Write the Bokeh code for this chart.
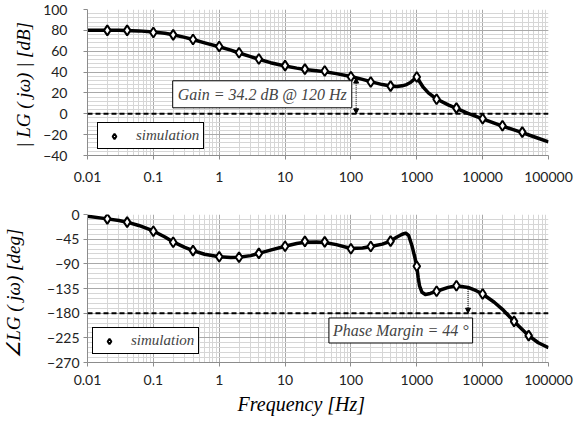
import numpy as np
from bokeh.plotting import figure
from bokeh.layouts import column
from bokeh.models import (Range1d, FixedTicker, Span, Label, Arrow, NormalHead,
                          Legend, LegendItem, Title)
from bokeh.embed import file_html
from bokeh.resources import INLINE

# ---------------- data ----------------
# simulation markers (magnitude)
sim_mag_f = [0.02, 0.04, 0.1, 0.2, 0.4, 1, 2, 4, 10, 20, 40, 100, 200, 400,
             1000, 2000, 4000, 10000, 20000, 40000]
sim_mag_db = [80, 80, 78, 75.7, 71.3, 64.5, 58.5, 52.5, 46.2, 42.8, 41, 35.5,
              30.5, 26.5, 35.3, 14, 5.4, -4.8, -11.5, -17.6]

# model curve (magnitude)
mag_f = [0.01, 0.03, 0.06, 0.1, 0.15, 0.2, 0.3, 0.4, 0.6, 1, 1.5, 2, 3, 4, 6,
         10, 15, 20, 30, 40, 60, 100, 150, 200, 300, 400, 500, 600, 700, 800,
         900, 1000, 1100, 1250, 1500, 2000, 3000, 4000, 6000, 10000, 15000,
         20000, 30000, 40000, 60000, 100000]
mag_db = [80, 80, 79.5, 78.5, 77.2, 75.8, 73.3, 71.2, 68, 64.3, 61, 58.3, 54.8,
          52.3, 49, 45.9, 43.8, 42.5, 41.3, 40.3, 38.5, 35.8, 33, 30.8, 28,
          26.6, 26.2, 26.8, 28, 30, 32.8, 35.8, 31, 25.5, 20, 14.2, 8.5, 5.2,
          0.5, -4.8, -9, -11.8, -15.5, -18, -22, -27]

# simulation markers (phase)
sim_ph_f = [0.02, 0.04, 0.1, 0.2, 0.4, 1, 2, 4, 10, 20, 40, 100, 200, 400,
            1000, 2000, 4000, 10000, 30000, 50000]
sim_ph_deg = [-8, -14, -30.5, -50.5, -66, -77, -78, -71, -58, -49, -50, -62.5,
              -58.5, -48.5, -94.5, -140, -130, -145, -195, -221]

# model curve (phase)
ph_f = [0.01, 0.02, 0.03, 0.04, 0.06, 0.1, 0.15, 0.2, 0.3, 0.4, 0.6, 1, 1.5,
        2, 3, 4, 6, 10, 15, 20, 30, 40, 60, 100, 150, 200, 300, 400, 500, 600,
        680, 750, 850, 950, 1000, 1050, 1100, 1200, 1350, 1600, 2000, 3000,
        4000, 6000, 8000, 10000, 15000, 20000, 30000, 50000, 70000, 100000]
ph_deg = [-3, -8, -11, -14, -20, -30, -41, -50, -60, -66, -72.5, -77, -78.5,
          -78, -75, -71, -65, -58, -53, -50.5, -50, -51, -55, -62, -61, -58.5,
          -54, -48.5, -41, -36, -34, -38, -58, -82, -95, -115, -130, -142,
          -146, -144, -140, -133, -130, -133, -139, -145, -160, -173, -195,
          -221, -234, -243]

x_ticks = [0.01, 0.1, 1, 10, 100, 1000, 10000, 100000]
x_tick_labels = ["0.01", "0.1", "1", "10", "100", "1000", "10000", "100000"]
mag_ticks = [-40, -20, 0, 20, 40, 60, 80, 100]
ph_ticks = [-270, -225, -180, -135, -90, -45, 0]

gain_f, gain_db = 120, 34.2          # gain annotation
pm_f, pm_deg = 6000, -136            # phase-margin annotation

# ---------------- style ----------------
SERIF = "Liberation Serif"
SANS = "Lato"
MAJOR = "#a9a9a9"
MINOR = "#d6d6d6"
AXIS = "#8c8c8c"

x_minor = [m * d for d in x_ticks[:-1] for m in range(2, 10)]
mag_minor = list(range(-40, 101, 4))
ph_minor = list(range(-270, 1, 9))


def style(p, yticks, yminor, xstandoff, label_standoff, axis_label_standoff):
    p.outline_line_color = None
    p.background_fill_color = "white"
    p.border_fill_color = "white"
    xt = FixedTicker(ticks=x_ticks, minor_ticks=x_minor)
    yt = FixedTicker(ticks=yticks, minor_ticks=yminor)
    p.xaxis.ticker = xt
    p.yaxis.ticker = yt
    p.xgrid.ticker = xt
    p.ygrid.ticker = yt
    p.xaxis.major_label_overrides = dict(zip(x_ticks, x_tick_labels))
    for g in (p.xgrid, p.ygrid):
        g.grid_line_color = MAJOR
        g.grid_line_width = 1
        g.minor_grid_line_color = MINOR
        g.minor_grid_line_width = 1
    for ax in (p.xaxis, p.yaxis):
        ax.axis_line_color = AXIS
        ax.major_tick_line_color = AXIS
        ax.major_tick_out = 4
        ax.major_tick_in = 0
        ax.minor_tick_line_color = None
        ax.major_label_text_font = SANS
        ax.major_label_text_font_size = "14px"
        ax.major_label_text_color = "#222222"
    p.xaxis.major_label_standoff = xstandoff
    p.yaxis.major_label_standoff = label_standoff
    p.yaxis.axis_label_text_font = SERIF
    p.yaxis.axis_label_text_font_style = "italic"
    p.yaxis.axis_label_text_font_size = "19px"
    p.yaxis.axis_label_text_color = "black"
    p.yaxis.axis_label_standoff = axis_label_standoff


def make_legend(renderer, loc):
    return Legend(items=[LegendItem(label="simulation", renderers=[renderer])],
                  location=loc, margin=0, padding=4, glyph_width=24,
                  glyph_height=14, label_height=14, label_standoff=10,
                  label_text_font=SERIF, label_text_font_style="italic",
                  label_text_font_size="15px", border_line_color="black",
                  border_line_alpha=1.0, border_line_width=1,
                  background_fill_color="white", background_fill_alpha=1)


# ---------------- magnitude plot ----------------
p1 = figure(width=574, height=190, x_axis_type="log",
            x_range=Range1d(0.01, 100000), y_range=Range1d(-40, 100),
            output_backend="svg", toolbar_location=None,
            min_border_left=82, min_border_right=26,
            min_border_top=9, min_border_bottom=35)
style(p1, mag_ticks, mag_minor, 12, 16, 6)
p1.yaxis.axis_label = "| LG ( jω) |  [dB]"

p1.add_layout(Span(location=0, dimension="width", line_color="black",
                   line_width=2, line_dash="5 3"))
p1.line(mag_f, mag_db, line_color="black", line_width=3.5, line_join="round")
r1 = p1.scatter(sim_mag_f, sim_mag_db, marker="diamond", size=10,
                fill_color="white", line_color="black", line_width=2)
p1.add_layout(Arrow(x_start=gain_f, y_start=0, x_end=gain_f, y_end=gain_db,
                    line_dash="1 1", line_width=1, line_color="black",
                    start=NormalHead(size=5, fill_color="black", line_color="black"),
                    end=NormalHead(size=5, fill_color="black", line_color="black")))
p1.add_layout(Label(x=4.5, y=18.7, text="Gain = 34.2 dB @ 120 Hz",
                    text_font=SERIF, text_font_style="italic",
                    text_font_size="16px", text_align="center",
                    text_baseline="middle", padding=5,
                    border_line_color="black", border_line_width=1,
                    background_fill_color="white"))
p1.add_layout(make_legend(r1, (10, 6)))

# ---------------- phase plot ----------------
p2 = figure(width=574, height=238, x_axis_type="log",
            x_range=Range1d(0.01, 100000), y_range=Range1d(-270, 0),
            output_backend="svg", toolbar_location=None,
            min_border_left=87, min_border_right=26,
            min_border_top=24, min_border_bottom=66)
style(p2, ph_ticks, ph_minor, 8, 4, 20)
p2.yaxis.axis_label = "∠LG ( jω)   [deg]"

p2.add_layout(Span(location=-180, dimension="width", line_color="black",
                   line_width=2, line_dash="5 3"))
p2.line(ph_f, ph_deg, line_color="black", line_width=3.5, line_join="round")
r2 = p2.scatter(sim_ph_f, sim_ph_deg, marker="diamond", size=10,
                fill_color="white", line_color="black", line_width=2)
p2.add_layout(Arrow(x_start=pm_f, y_start=pm_deg, x_end=pm_f, y_end=-180,
                    line_dash="1 1", line_width=1, line_color="black",
                    end=NormalHead(size=5, fill_color="black", line_color="black")))
p2.add_layout(Label(x=571, y=-211.6, text="Phase Margin = 44 °",
                    text_font=SERIF, text_font_style="italic",
                    text_font_size="16px", text_align="center",
                    text_baseline="middle", padding=4,
                    border_line_color="black", border_line_width=1,
                    background_fill_color="white"))
p2.add_layout(make_legend(r2, (5, 8)))

p2.add_layout(Title(text="Frequency [Hz]", align="left", offset=150,
                    text_font=SERIF, text_font_style="italic",
                    text_font_size="20px", text_color="black",
                    standoff=6), "below")

layout = column(p1, p2, spacing=0)
open("out.html", "w").write(file_html(layout, INLINE))
